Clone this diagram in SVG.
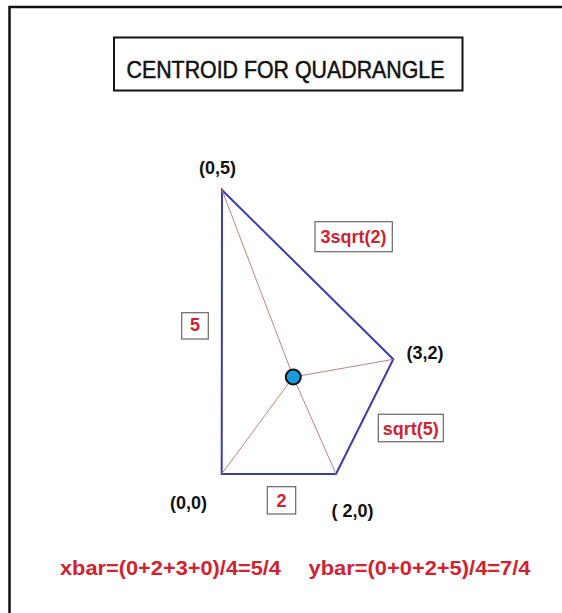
<svg xmlns="http://www.w3.org/2000/svg" width="562" height="613" viewBox="0 0 562 613">
<style>
.lbl{font-family:"Liberation Sans",Arial,sans-serif;font-weight:bold;font-size:18px;fill:#111}
.red{font-family:"Liberation Sans",Arial,sans-serif;font-weight:bold;font-size:18px;fill:#d0232f}
.box{fill:#fff;stroke:#666;stroke-width:1.2}
.edge{stroke:#3a3caa;stroke-width:2;fill:none}
.med{stroke:#c38080;stroke-width:1;fill:none}
</style>
<rect width="562" height="613" fill="#fff"/>
<path d="M9.5 613 V7 H562" fill="none" stroke="#111" stroke-width="2.5"/>
<g id="title">
<rect x="114" y="37.5" width="348.5" height="53" fill="#fff" stroke="#111" stroke-width="2"/>
<text x="126.5" y="77.5" font-family="Liberation Sans, Arial, sans-serif" font-size="24" fill="#111" stroke="#111" stroke-width="0.5" textLength="318" lengthAdjust="spacingAndGlyphs">CENTROID FOR QUADRANGLE</text>
</g>
<g id="connectors">
<polygon class="edge" points="222,190 393.3,359.3 336,474 221.7,474"/>
<line class="med" x1="293.3" y1="377" x2="222" y2="190"/>
<line class="med" x1="293.3" y1="377" x2="393.3" y2="359.3"/>
<line class="med" x1="293.3" y1="377" x2="336" y2="474"/>
<line class="med" x1="293.3" y1="377" x2="221.7" y2="474"/>
</g>
<g id="centroid">
<circle cx="293.3" cy="377" r="7.5" fill="#1a9bd9" stroke="#111" stroke-width="2"/>
</g>
<g id="v05"><text class="lbl" x="199" y="174">(0,5)</text></g>
<g id="v32"><text class="lbl" x="406.5" y="358.5">(3,2)</text></g>
<g id="v00"><text class="lbl" x="170" y="508.5">(0,0)</text></g>
<g id="v20"><text class="lbl" x="331.5" y="517">( 2,0)</text></g>
<g id="len3sqrt2">
<rect class="box" x="315" y="221.7" width="77.3" height="30"/>
<text class="red" x="353.6" y="243" text-anchor="middle">3sqrt(2)</text>
</g>
<g id="len5">
<rect class="box" x="181.7" y="312.7" width="26.6" height="26.3"/>
<text class="red" x="195" y="330.5" text-anchor="middle">5</text>
</g>
<g id="lensqrt5">
<rect class="box" x="378.3" y="414.3" width="65" height="27.4"/>
<text class="red" x="410.8" y="434.5" text-anchor="middle">sqrt(5)</text>
</g>
<g id="len2">
<rect class="box" x="267.3" y="486.7" width="28.4" height="27.3"/>
<text class="red" x="281.5" y="506.5" text-anchor="middle">2</text>
</g>
<g id="formula">
<text class="red" x="60" y="575" style="font-size:20px" textLength="221" lengthAdjust="spacingAndGlyphs">xbar=(0+2+3+0)/4=5/4</text>
<text class="red" x="308.5" y="575" style="font-size:20px" textLength="222" lengthAdjust="spacingAndGlyphs">ybar=(0+0+2+5)/4=7/4</text>
</g>
</svg>
